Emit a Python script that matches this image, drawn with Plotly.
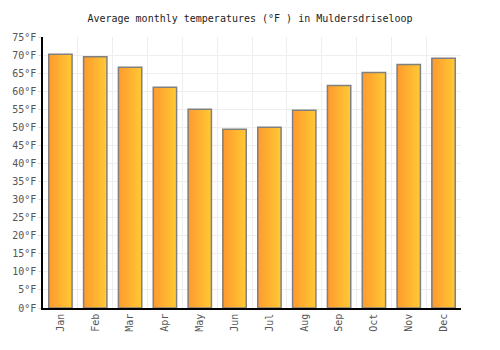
import plotly.graph_objects as go

months = ["Jan", "Feb", "Mar", "Apr", "May", "Jun", "Jul", "Aug", "Sep", "Oct", "Nov", "Dec"]
temps_f = [70.2, 69.5, 66.6, 61.1, 55.0, 49.5, 50.0, 54.7, 61.6, 65.2, 67.4, 69.1]
y_ticks = list(range(0, 80, 5))
y_labels = [f"{v}°F" for v in y_ticks]

BAR_W = 0.67
N_STEPS = 14
left_rgb = (255, 152, 46)
right_rgb = (255, 200, 52)

fig = go.Figure()
# gradient: overlaid bars sharing a left edge, widest (right colour) drawn first
for i in range(N_STEPS):
    t = 1 - i / N_STEPS
    w = BAR_W * (N_STEPS - i) / N_STEPS
    c = tuple(round(l + (r - l) * t) for l, r in zip(left_rgb, right_rgb))
    fig.add_trace(go.Bar(
        x=months, y=temps_f, width=w, offset=-BAR_W / 2,
        marker=dict(color=f"rgb{c}", line=dict(width=0)),
        hoverinfo="skip", showlegend=False,
    ))
# outline
fig.add_trace(go.Bar(
    x=months, y=temps_f, width=BAR_W, offset=-BAR_W / 2,
    marker=dict(color="rgba(0,0,0,0)", line=dict(color="#808080", width=1.5)),
    showlegend=False, name="Temperature",
))

font = "DejaVu Sans Mono"
fig.update_layout(
    width=500, height=350,
    margin=dict(l=41, r=39, t=37, b=42),
    barmode="overlay",
    plot_bgcolor="white", paper_bgcolor="white",
    title=dict(text="Average monthly temperatures (°F ) in Muldersdriseloop",
               x=0.5, xanchor="center", y=0.946, yanchor="middle",
               font=dict(family=font, size=10, color="#222")),
    font=dict(family=font, size=10, color="#555"),
)
fig.update_xaxes(
    type="category", tickson="boundaries", showgrid=True, gridcolor="#eeeeee",
    tickangle=-90, showline=True, linecolor="black", linewidth=1.5,
    ticks="", tickfont=dict(family=font, size=10, color="#555"),
)
fig.update_yaxes(
    range=[0, 75], tickvals=y_ticks, ticktext=y_labels,
    showgrid=True, gridcolor="#eeeeee", zeroline=False,
    showline=True, linecolor="black", linewidth=1.5,
    ticks="outside", ticklen=3, tickcolor="#dddddd",
    tickfont=dict(family=font, size=10, color="#555"),
)

fig.write_html("out.html")
